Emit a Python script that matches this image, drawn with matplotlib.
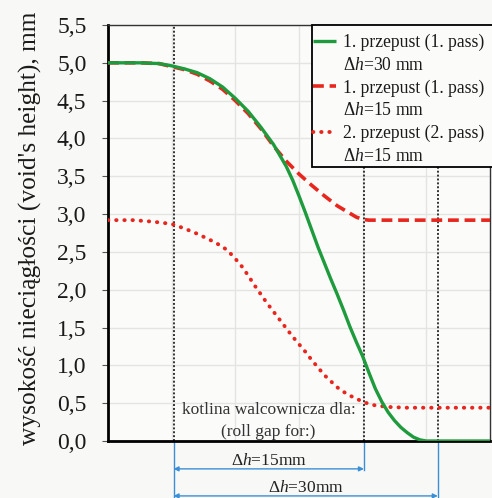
import matplotlib
matplotlib.use("Agg")
import matplotlib.pyplot as plt
import matplotlib.transforms as mtransforms
from matplotlib.lines import Line2D
from matplotlib.patches import Rectangle

plt.rcParams['font.family'] = ['Liberation Serif', 'DejaVu Serif']
plt.rcParams['mathtext.fontset'] = 'custom'
plt.rcParams['mathtext.rm'] = 'Liberation Serif'
plt.rcParams['mathtext.it'] = 'Liberation Serif:italic'

# ---- data (x in relative position units, y in mm) ----
x_green = [0.0, 0.5, 0.8, 1.0, 1.2, 1.4, 1.6, 1.8, 2.0, 2.2, 2.4, 2.6, 2.8, 2.9, 3.0, 3.1, 3.2, 3.3, 3.4,
           3.5, 3.6, 3.7, 3.8, 3.9, 4.0, 4.1, 4.2, 4.3, 4.4, 4.5, 4.6, 4.7, 4.8, 4.9, 5.0, 6.0]
y_green = [5.0, 5.0, 4.99, 4.96, 4.92, 4.87, 4.79, 4.68, 4.53, 4.36, 4.15, 3.92, 3.63, 3.45, 3.24, 3.02, 2.79, 2.56, 2.35,
           2.14, 1.94, 1.73, 1.51, 1.31, 1.12, 0.90, 0.69, 0.52, 0.38, 0.27, 0.18, 0.11, 0.05, 0.015, 0.0, 0.0]

x_dash = [0.0, 0.5, 0.8, 1.0, 1.2, 1.4, 1.6, 1.8, 2.0, 2.2, 2.4, 2.6, 2.8, 3.0, 3.2, 3.4, 3.6, 3.8, 3.9, 4.0, 4.1, 6.0]
y_dash = [5.0, 5.0, 4.99, 4.95, 4.91, 4.85, 4.76, 4.65, 4.50, 4.33, 4.13, 3.90, 3.70, 3.53, 3.38, 3.24, 3.11, 3.01, 2.96, 2.93, 2.92, 2.92]

x_dot = [0.0, 0.4, 0.7, 1.0, 1.2, 1.4, 1.6, 1.8, 1.9, 2.0, 2.1, 2.2, 2.3, 2.4, 2.5, 2.6, 2.7, 2.8, 2.9, 3.0,
         3.1, 3.2, 3.3, 3.4, 3.5, 3.6, 3.7, 3.8, 3.9, 4.0, 4.1, 4.2, 4.4, 4.7, 6.0]
y_dot = [2.92, 2.92, 2.90, 2.87, 2.81, 2.74, 2.66, 2.57, 2.50, 2.41, 2.31, 2.19, 2.06, 1.94, 1.82, 1.71, 1.60, 1.49, 1.38, 1.28,
         1.18, 1.07, 0.97, 0.87, 0.79, 0.71, 0.65, 0.60, 0.56, 0.52, 0.49, 0.47, 0.45, 0.44, 0.44]

gap_lines = [1.03, 4.02, 5.18]
yticks = [0.0, 0.5, 1.0, 1.5, 2.0, 2.5, 3.0, 3.5, 4.0, 4.5, 5.0, 5.5]
ytick_labels = ['0,0', '0,5', '1,0', '1,5', '2,0', '2,5', '3,0', '3,5', '4,0', '4,5', '5,0', '5,5']
legend_lines = ['1. przepust (1. pass)', '$\\Delta \\mathit{h}$=30 mm',
                '1. przepust (1. pass)', '$\\Delta \\mathit{h}$=15 mm',
                '2. przepust (2. pass)', '$\\Delta \\mathit{h}$=15 mm']

green = '#1e9b3c'
red = '#e8261e'
blue = '#3a8fd6'
txt = '#1a1a1a'

fig = plt.figure(figsize=(4.92, 4.98), dpi=100, facecolor='#f8f8f6')
ax = fig.add_axes([108/492, 57/498, 382/492, 416/498])
ax.set_facecolor('#fbfbfa')

ax.set_xlim(0, 6)
ax.set_ylim(0, 5.5)
ax.set_yticks(yticks)
ax.set_yticklabels(ytick_labels, fontsize=17, color=txt)
ax.set_xticks([1, 2, 3, 4, 5])
ax.tick_params(axis='x', length=0, labelbottom=False)
ax.tick_params(axis='y', direction='out', length=4, width=0.8, color='#555555', pad=11.5)
ax.grid(True, color='#e4e4e2', linewidth=1.0)
ax.set_axisbelow(True)
for s in ['left', 'bottom']:
    ax.spines[s].set_linewidth(2.0)
    ax.spines[s].set_color('black')
for s in ['top', 'right']:
    ax.spines[s].set_linewidth(1.0)
    ax.spines[s].set_color('#333333')

ax.set_ylabel("wysokość nieciągłości (void's height), mm", fontsize=18.3, labelpad=11, color=txt)
ax.yaxis.label.set_y(0.512)

for gx in gap_lines:
    ax.axvline(gx, color='#333333', linestyle=(0, (1, 1)), linewidth=1.4, zorder=2)

l1, = ax.plot(x_green, y_green, color=green, linewidth=2.4, solid_capstyle='butt', zorder=4)
l2, = ax.plot(x_dash, y_dash, color=red, linewidth=2.6, linestyle=(0, (3, 1.6)), zorder=3)
l3, = ax.plot(x_dot, y_dot, color=red, linewidth=2.8, linestyle=(0, (0.1, 2.0)), dash_capstyle='round', zorder=3)

# legend frame drawn separately
frame = Rectangle((0.534, 0.659), 0.48, 0.341, transform=ax.transAxes, facecolor='#fbfbfa',
                  edgecolor='black', linewidth=1.3, zorder=4.5, clip_on=False)
ax.add_patch(frame)

blank = Line2D([], [], color='none')
leg = ax.legend([l1, blank, l2, blank, l3, blank], legend_lines, loc='upper right', bbox_to_anchor=(1.008, 1.0),
                fontsize=12.7, frameon=False, handlelength=1.3, handletextpad=0.4,
                labelspacing=0.32, borderpad=0.5, borderaxespad=0.0)
leg.set_zorder(5)
for t in leg.get_texts():
    t.set_color(txt)

ax.text(2.52, 0.41, 'kotlina walcownicza dla:', ha='center', va='center', fontsize=12.5, color='#333333')
ax.text(2.52, 0.12, '(roll gap for:)', ha='center', va='center', fontsize=12.5, color='#333333')

trans = mtransforms.blended_transform_factory(ax.transData, ax.transAxes)
# blue extension lines
ax.plot([gap_lines[0], gap_lines[0]], [0, -0.14], color=blue, lw=1.0, transform=trans, clip_on=False)
ax.plot([gap_lines[1], gap_lines[1]], [0, -0.07], color=blue, lw=1.0, transform=trans, clip_on=False)
ax.plot([gap_lines[2], gap_lines[2]], [0, -0.14], color=blue, lw=1.0, transform=trans, clip_on=False)

ax.annotate('', xy=(gap_lines[0], -0.067), xytext=(gap_lines[1], -0.067), xycoords=trans, textcoords=trans,
            arrowprops=dict(arrowstyle='<|-|>', color=blue, lw=1.0, mutation_scale=7, shrinkA=0, shrinkB=0),
            annotation_clip=False)
ax.annotate('', xy=(gap_lines[0], -0.132), xytext=(gap_lines[2], -0.132), xycoords=trans, textcoords=trans,
            arrowprops=dict(arrowstyle='<|-|>', color=blue, lw=1.0, mutation_scale=7, shrinkA=0, shrinkB=0),
            annotation_clip=False)
ax.text((gap_lines[0] + gap_lines[1]) / 2, -0.047, '$\\Delta \\mathit{h}$=15mm', transform=trans,
        ha='center', va='center', fontsize=12.5, color='#222222')
ax.text((gap_lines[0] + gap_lines[2]) / 2, -0.113, '$\\Delta \\mathit{h}$=30mm', transform=trans,
        ha='center', va='center', fontsize=12.5, color='#222222')

fig.savefig('out.png', dpi=100, facecolor=fig.get_facecolor())
